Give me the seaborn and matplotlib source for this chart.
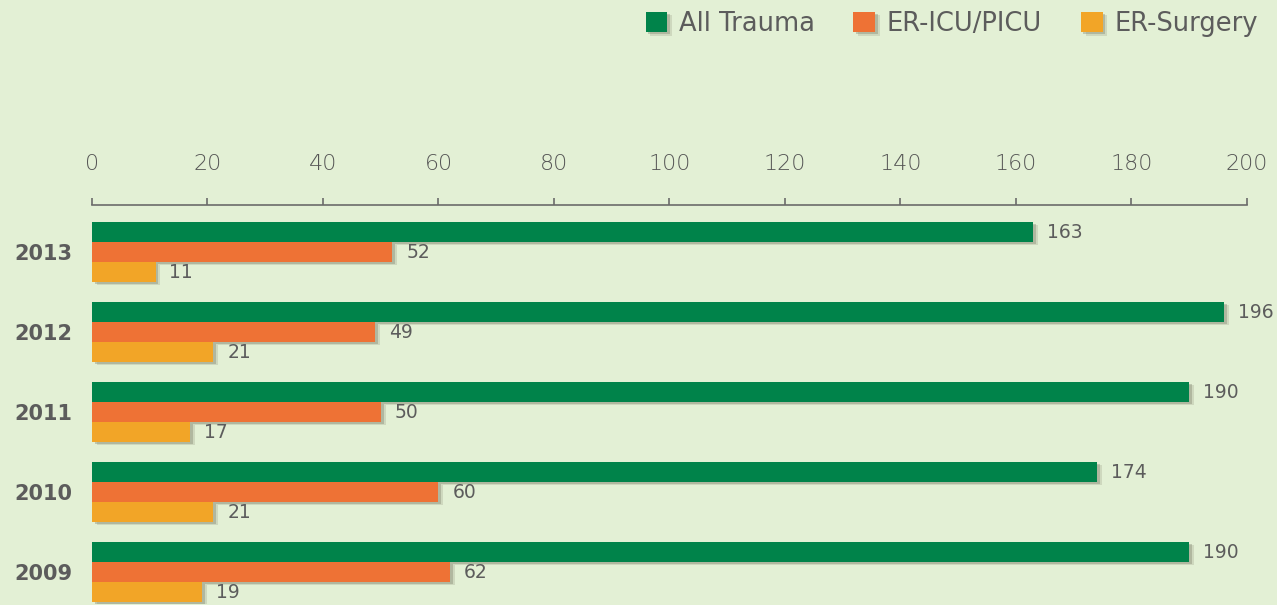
import matplotlib
matplotlib.use("Agg")
import matplotlib.pyplot as plt
import matplotlib.patheffects as pe
from matplotlib.patches import Patch
import seaborn as sns
import pandas as pd

years = ["2013", "2012", "2011", "2010", "2009"]
all_trauma = [163, 196, 190, 174, 190]
er_icu = [52, 49, 50, 60, 62]
er_surgery = [11, 21, 17, 21, 19]
series = ["All Trauma", "ER-ICU/PICU", "ER-Surgery"]
colors = ["#00834A", "#EE7235", "#F2A527"]
xticks = [0, 20, 40, 60, 80, 100, 120, 140, 160, 180, 200]

rows = []
for name, vals in zip(series, [all_trauma, er_icu, er_surgery]):
    for y, v in zip(years, vals):
        rows.append({"year": y, "series": name, "value": v})
df = pd.DataFrame(rows)

bg = "#E3F0D5"
txt = "#5C5C5C"
sns.set_theme(style="white")
plt.rcParams["font.family"] = ["DejaVu Sans"]

fig = plt.figure(figsize=(12.77, 6.05), dpi=100, facecolor=bg)
ax = fig.add_axes([92 / 1277, 1 / 605, (1247 - 92) / 1277, 399 / 605])
ax.set_facecolor(bg)

sns.barplot(data=df, x="value", y="year", hue="series", order=years,
            hue_order=series, palette=colors, orient="h", width=0.75,
            saturation=1, ax=ax, legend=False)

shadow = [pe.SimplePatchShadow(offset=(3.5, -2.5), shadow_rgbFace="#7a7a66", alpha=0.2),
          pe.SimplePatchShadow(offset=(2, -1.5), shadow_rgbFace="#6b6b5a", alpha=0.3),
          pe.Normal()]
for cont in ax.containers:
    for p in cont:
        p.set_path_effects(shadow)
        p.set_edgecolor("none")
    ax.bar_label(cont, padding=10, color=txt, fontsize=13.5)

ax.set_xlim(0, 200)
ax.set_ylim(4.4, -0.5875)
ax.xaxis.tick_top()
ax.set_xticks(xticks)
ax.tick_params(axis="x", direction="out", length=5, width=1.2, color="#6b6b6b",
               labelsize=16, labelcolor="#555555", pad=17, top=True, bottom=False)
ax.tick_params(axis="y", length=0, labelsize=15, labelcolor=txt, pad=14)
for lbl in ax.get_yticklabels():
    lbl.set_fontweight("bold")
for lbl in ax.get_xticklabels():
    lbl.set_fontweight("light")
ax.set_xlabel("")
ax.set_ylabel("")
for s in ["left", "right", "bottom"]:
    ax.spines[s].set_visible(False)
ax.spines["top"].set_color("#6b6b6b")
ax.spines["top"].set_linewidth(1.2)

handles = [Patch(facecolor=c, edgecolor="none", path_effects=shadow) for c in colors]
fig.legend(handles, series, loc="upper right", bbox_to_anchor=(1.003, 1.02), ncol=3,
           frameon=False, fontsize=18.5, labelcolor=txt, handlelength=0.85,
           handleheight=0.85, handletextpad=0.45, columnspacing=1.5)

fig.savefig("out.png", dpi=100, facecolor=bg)
